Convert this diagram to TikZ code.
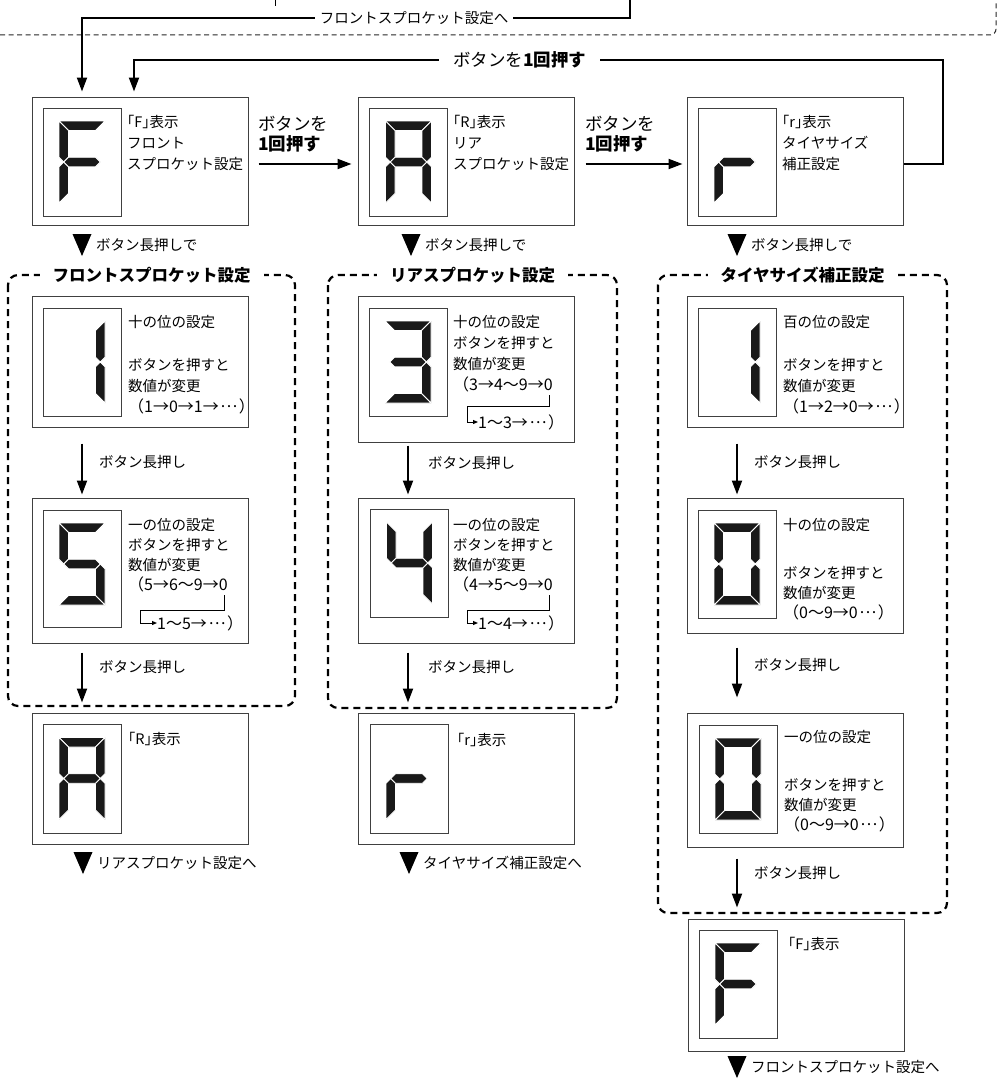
\documentclass[tikz,border=0pt]{standalone}
\usepackage{fontspec}
\setmainfont{Noto Sans CJK JP}
\usetikzlibrary{arrows.meta,positioning}

% half-width corner brackets, centred ellipsis
\newcommand\hw[1]{{\addfontfeature{RawFeature=+halt}#1}}
\newcommand\fw[1]{\hspace{.1em}\raisebox{.3em}{#1}\hspace{.1em}}
\newcommand\seq{\fontsize{16}{20}\selectfont}

% one segment of the display, local frame (y down)
\newcommand\lcdseg[1]{%
  \ifcase#1
    \fill[seg] (-23,-41) -- (23,-41) -- (13.5,-31.5) -- (-13.5,-31.5) -- cycle;
  \or
    \fill[seg] (23,-41) -- (23,-4.75) -- (18.25,0) -- (13.5,-4.75) -- (13.5,-31.5) -- cycle;
  \or
    \fill[seg] (23,41) -- (23,4.75) -- (18.25,0) -- (13.5,4.75) -- (13.5,31.5) -- cycle;
  \or
    \fill[seg] (-23,41) -- (23,41) -- (13.5,31.5) -- (-13.5,31.5) -- cycle;
  \or
    \fill[seg] (-23,41) -- (-23,4.75) -- (-18.25,0) -- (-13.5,4.75) -- (-13.5,31.5) -- cycle;
  \or
    \fill[seg] (-23,-41) -- (-23,-4.75) -- (-18.25,0) -- (-13.5,-4.75) -- (-13.5,-31.5) -- cycle;
  \or
    \fill[seg] (-18.25,0) -- (-13.5,-4.75) -- (13.5,-4.75) -- (18.25,0) -- (13.5,4.75) -- (-13.5,4.75) -- cycle;
  \fi}
\newcommand\lcddigit[2]{%
  \begin{scope}[shift={(#1)}]
    \foreach \s in {#2} {\lcdseg{\s}}
  \end{scope}}
\newcommand\tridown[1]{\fill (#1) +(-9.5,-11) -- +(9.5,-11) -- +(0,11) -- cycle;}

\begin{document}
\begin{tikzpicture}[x=1pt,y=-1pt,>={Triangle[length=14pt,width=10pt]},
    panel/.style={draw=black!75,line width=1pt,minimum width=216pt,inner sep=0pt},
    lcd/.style={draw=black!75,line width=1pt,minimum width=78pt,minimum height=108pt,inner sep=0pt},
    seg/.style={fill=black!90,draw=white,line width=0.9pt},
    txt/.style={font=\fontsize{14.5}{21}\selectfont,align=left,inner sep=0pt,anchor=north west},
    lbl/.style={font=\fontsize{14.5}{18}\selectfont,inner sep=0pt},
    btn/.style={font=\fontsize{17.5}{20}\selectfont,align=left,inner sep=0pt,anchor=north west},
    link/.style={->,line width=2pt},
    grp/.style={line width=2.2pt,dash pattern=on 7pt off 5pt,rounded corners=10pt},
    ttl/.style={font=\fontsize{16.5}{20}\selectfont\bfseries,fill=white,inner xsep=13pt,inner ysep=3pt},
    bk/.style={line width=1pt,-{Triangle[length=5pt,width=4pt]}}]
	\useasboundingbox (0,0) rectangle (1000,1081);

	% previous section (cut off)
	\draw[line width=1pt,black!85,dash pattern=on 5pt off 3.5pt,rounded corners=6pt] (0,35) -- (996,35) -- (996,0);
	\draw[line width=1pt] (275,0) -- (275,6);

	% top row
	\node[panel,minimum height=128pt] (f0) at (140,161) {};
	\node[lcd] (f0d) at (82,162) {};
	\lcddigit{f0d.center}{0,4,5,6}
	\node[txt] (f0t) at (127,115) {\hw{「}F\hw{」}表示\\フロント\\スプロケット設定};

	\node[panel,minimum height=128pt] (r0) at (466,161) {};
	\node[lcd] (r0d) at (408.5,162) {};
	\lcddigit{r0d.center}{0,1,2,4,5,6}
	\node[txt] (r0t) at (453,115) {\hw{「}R\hw{」}表示\\リア\\スプロケット設定};

	\node[panel,minimum height=128pt] (t0) at (795,161) {};
	\node[lcd] (t0d) at (737,162) {};
	\lcddigit{t0d.center}{4,6}
	\node[txt] (t0t) at (782,115) {\hw{「}r\hw{」}表示\\タイヤサイズ\\補正設定};

	\draw[link,shorten <=10pt,shorten >=6pt] ([yshift=-3pt]f0.east) -- ([yshift=-3pt]r0.west);
	\node[btn] (b0) at (258,116) {ボタンを\\\textbf{1回押す}};
	\draw[link,shorten <=11pt,shorten >=4pt] ([yshift=-3pt]r0.east) -- ([yshift=-3pt]t0.west);
	\node[btn] (b1) at (585,116) {ボタンを\\\textbf{1回押す}};

	% way in from the top, and the loop back
	\coordinate (topIn) at (630,0);
	\coordinate (topR) at (630,18);
	\coordinate (topL) at (82,18);
	\draw[link,shorten >=5pt] (topIn) -- (topR) -- node[lbl,fill=white,inner xsep=5pt,pos=0.394] (topT) {フロントスプロケット設定へ} (topL) -- (topL |- f0.north);
	\coordinate (loopR) at (943,60);
	\coordinate (loopL) at (134,60);
	\draw[link,shorten >=5pt] ([yshift=-3pt]t0.east) -| (loopR) -- node[btn,anchor=center,fill=white,inner xsep=14pt,pos=0.523] (loopT) {ボタンを\textbf{1回押す}} (loopL) -- (loopL |- f0.north);

	% long press marks
	\coordinate (fv0) at (82,245); \tridown{fv0}
	\node[lbl,right=14pt of fv0] (fn0) {ボタン長押しで};
	\coordinate (rv0) at (411,245); \tridown{rv0}
	\node[lbl,right=14pt of rv0] (rn0) {ボタン長押しで};
	\coordinate (tv0) at (737,245); \tridown{tv0}
	\node[lbl,right=14pt of tv0] (tn0) {ボタン長押しで};

	% groups
	\draw[grp] (8,275) rectangle (295,706);
	\node[ttl] (fg) at (151.5,275) {フロントスプロケット設定};
	\draw[grp] (328,275) rectangle (617,708);
	\node[ttl] (rg) at (472.5,275) {リアスプロケット設定};
	\draw[grp] (658,275) rectangle (947,913);
	\node[ttl] (tg) at (802.5,275) {タイヤサイズ補正設定};

	% front sprocket
	\node[panel,minimum height=131pt] (f1) at (140,361.5) {};
	\node[lcd] (f1d) at (82,362) {};
	\lcddigit{f1d.center}{1,2}
	\node[txt] (f1t) at (128,315) {十の位の設定\\[22pt]ボタンを押すと\\数値が変更\\{\seq（1→0→1→\fw{…}）}};

	\node[panel,minimum height=145pt] (f2) at (140,570.5) {};
	\node[lcd,minimum height=117pt] (f2d) at (82,568.5) {};
	\lcddigit{[yshift=4.5pt]f2d.center}{0,2,3,5,6}
	\node[txt,font=\fontsize{14.5}{20}\selectfont] (f2t) at (128,518) {一の位の設定\\ボタンを押すと\\数値が変更\\{\seq（5→6〜9→0}};
	\node[lbl,font=\seq,anchor=west] (f2u) at (157,623) {1〜5→\fw{…}）};
	\coordinate (f2k) at (224,595);
	\draw[bk] (f2k) -- ++(0,15) -| ([xshift=-17pt]f2u.west) -- (f2u.west);

	\node[panel,minimum height=131pt] (f3) at (140,778.5) {};
	\node[lcd,minimum height=109pt] (f3d) at (82,778.5) {};
	\lcddigit{f3d.center}{0,1,2,4,5,6}
	\node[txt] (f3t) at (128,732) {\hw{「}R\hw{」}表示};

	\draw[link,shorten <=16pt,shorten >=3pt] (f1.south -| f1d.center) -- node[lbl,right=16pt,pos=0.5] (f1n) {ボタン長押し} (f2.north -| f1d.center);
	\draw[link,shorten <=9pt,shorten >=10pt] (f2.south -| f2d.center) -- node[lbl,right=16pt,pos=0.34] (f2n) {ボタン長押し} (f3.north -| f2d.center);
	\coordinate (fv1) at (83,863); \tridown{fv1}
	\node[lbl,right=14pt of fv1] (fn1) {リアスプロケット設定へ};

	% rear sprocket
	\node[panel,minimum height=146pt] (r1) at (466.5,369) {};
	\node[lcd] (r1d) at (408,362) {};
	\lcddigit{r1d.center}{0,1,2,3,6}
	\node[txt] (r1t) at (453,315) {十の位の設定\\ボタンを押すと\\数値が変更\\{\seq（3→4〜9→0}};
	\node[lbl,font=\seq,anchor=west] (r1u) at (478,422) {1〜3→\fw{…}）};
	\coordinate (r1k) at (549,395);
	\draw[bk] (r1k) -- ++(0,11) -| ([xshift=-11pt]r1u.west) -- (r1u.west);

	\node[panel,minimum height=145pt] (r2) at (466.5,570.5) {};
	\node[lcd] (r2d) at (409.5,563) {};
	\lcddigit{r2d.center}{1,2,5,6}
	\node[txt,font=\fontsize{14.5}{20}\selectfont] (r2t) at (453,518) {一の位の設定\\ボタンを押すと\\数値が変更\\{\seq（4→5〜9→0}};
	\node[lbl,font=\seq,anchor=west] (r2u) at (478,623) {1〜4→\fw{…}）};
	\coordinate (r2k) at (549,595);
	\draw[bk] (r2k) -- ++(0,15) -| ([xshift=-11pt]r2u.west) -- (r2u.west);

	\node[panel,minimum height=131pt] (r3) at (466,778.5) {};
	\node[lcd,minimum height=109pt] (r3d) at (409,778.5) {};
	\lcddigit{r3d.center}{4,6}
	\node[txt] (r3t) at (457,733) {\hw{「}r\hw{」}表示};

	\draw[link,shorten <=3pt,shorten >=3pt] (r1.south -| r1d.center) -- node[lbl,right=19pt,pos=0.375] (r1n) {ボタン長押し} (r2.north -| r1d.center);
	\draw[link,shorten <=9pt,shorten >=10pt] (r2.south -| r1d.center) -- node[lbl,right=19pt,pos=0.34] (r2n) {ボタン長押し} (r3.north -| r1d.center);
	\coordinate (rv1) at (409,863); \tridown{rv1}
	\node[lbl,right=14pt of rv1] (rn1) {タイヤサイズ補正設定へ};

	% tyre size
	\node[panel,minimum height=131pt] (t1) at (795,361.5) {};
	\node[lcd] (t1d) at (737,362) {};
	\lcddigit{t1d.center}{1,2}
	\node[txt] (t1t) at (783,315) {百の位の設定\\[22pt]ボタンを押すと\\数値が変更\\{\seq（1→2→0→\fw{…}）}};

	\node[panel,minimum height=135pt] (t2) at (795,565.5) {};
	\node[lcd] (t2d) at (737,564) {};
	\lcddigit{t2d.center}{0,1,2,3,4,5}
	\node[txt,font=\fontsize{14.5}{20}\selectfont] (t2t) at (783,518) {十の位の設定\\[28pt]ボタンを押すと\\数値が変更\\{\seq（0〜9→0\fw{…}）}};

	\node[panel,minimum height=134pt] (t3) at (795.5,780) {};
	\node[lcd] (t3d) at (738,779) {};
	\lcddigit{t3d.center}{0,1,2,3,4,5}
	\node[txt,font=\fontsize{14.5}{20}\selectfont] (t3t) at (784,730) {一の位の設定\\[28pt]ボタンを押すと\\数値が変更\\{\seq（0〜9→0\fw{…}）}};

	\node[panel,minimum height=132pt] (t4) at (796.5,985) {};
	\node[lcd] (t4d) at (738,984) {};
	\lcddigit{t4d.center}{0,4,5,6}
	\node[txt] (t4t) at (788,937) {\hw{「}F\hw{」}表示};

	\draw[link,shorten <=16pt,shorten >=3pt] (t1.south -| t1d.center) -- node[lbl,right=16pt,pos=0.5] (t1n) {ボタン長押し} (t2.north -| t1d.center);
	\draw[link,shorten <=14pt,shorten >=15pt] (t2.south -| t1d.center) -- node[lbl,right=16pt,pos=0.4] (t2n) {ボタン長押し} (t3.north -| t1d.center);
	\draw[link,shorten <=11pt,shorten >=11pt] (t3.south -| t1d.center) -- node[lbl,right=16pt,pos=0.36] (t3n) {ボタン長押し} (t4.north -| t1d.center);
	\coordinate (tv1) at (737,1067); \tridown{tv1}
	\node[lbl,right=14pt of tv1] (tn1) {フロントスプロケット設定へ};
\end{tikzpicture}
\end{document}
